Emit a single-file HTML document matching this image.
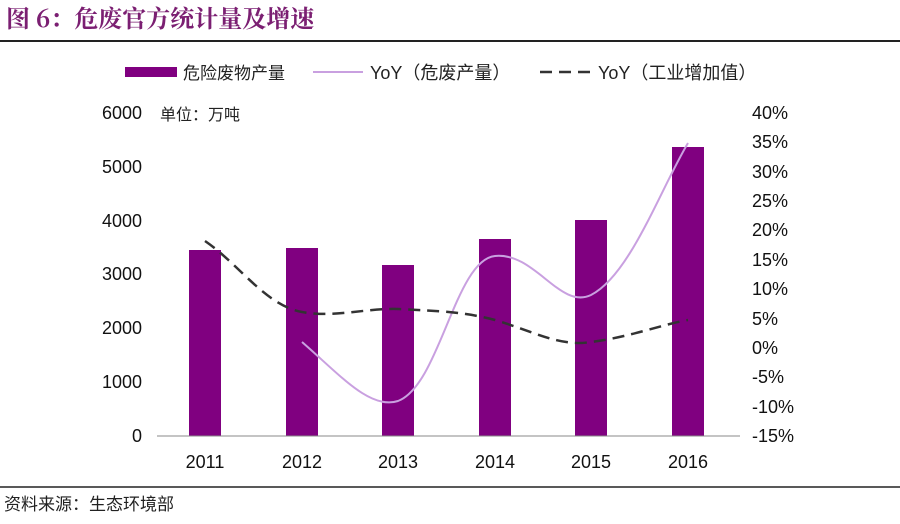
<!DOCTYPE html>
<html><head><meta charset="utf-8"><style>
body{margin:0;background:#fff;width:900px;height:519px;overflow:hidden;font-family:"Liberation Sans","Noto Sans CJK SC",sans-serif}
</style></head><body>
<svg width="900" height="519" xmlns="http://www.w3.org/2000/svg" font-family="Liberation Sans, Noto Sans CJK SC, sans-serif">
<text x="6" y="27" font-size="24" font-weight="bold" fill="#7b1f72" font-family="Noto Serif CJK SC, Noto Sans CJK SC, sans-serif">图 6：危废官方统计量及增速</text>
<line x1="0" y1="41" x2="900" y2="41" stroke="#222" stroke-width="2"/>
<rect x="125" y="67" width="52" height="10" fill="#800080"/>
<text x="183" y="79" font-size="17" fill="#222">危险废物产量</text>
<line x1="313" y1="72" x2="363" y2="72" stroke="#c9a0e0" stroke-width="2"/>
<text x="370" y="79" font-size="18" fill="#222">YoY（危废产量）</text>
<line x1="540" y1="72" x2="590" y2="72" stroke="#333" stroke-width="2.5" stroke-dasharray="12,7"/>
<text x="598" y="79" font-size="18" fill="#222">YoY（工业增加值）</text>
<g font-size="18" fill="#111" text-anchor="end">
<text x="142" y="119">6000</text><text x="142" y="173">5000</text><text x="142" y="227">4000</text><text x="142" y="280">3000</text><text x="142" y="334">2000</text><text x="142" y="388">1000</text><text x="142" y="442">0</text>
</g>
<text x="160" y="120" font-size="16" fill="#222">单位：万吨</text>
<g font-size="18" fill="#111">
<text x="752" y="119">40%</text><text x="752" y="148">35%</text><text x="752" y="178">30%</text><text x="752" y="207">25%</text><text x="752" y="236">20%</text><text x="752" y="266">15%</text><text x="752" y="295">10%</text><text x="752" y="325">5%</text><text x="752" y="354">0%</text><text x="752" y="383">-5%</text><text x="752" y="413">-10%</text><text x="752" y="442">-15%</text>
</g>
<g fill="#800080">
<rect x="189" y="250" width="32" height="186"/>
<rect x="286" y="248" width="32" height="188"/>
<rect x="382" y="265" width="32" height="171"/>
<rect x="479" y="239" width="32" height="197"/>
<rect x="575" y="220" width="32" height="216"/>
<rect x="672" y="147" width="32" height="289"/>
</g>
<line x1="157" y1="436" x2="740" y2="436" stroke="#888" stroke-width="1"/>
<path d="M302,342 C340,375 370,410 398,401 C440,385 455,260 495,256 C535,252 560,310 591,295 C630,275 660,190 688,143" fill="none" stroke="#c9a0e0" stroke-width="2"/>
<path d="M205,241 C240,265 265,305 302,312 C335,318 365,308 398,309 C440,311 465,312 495,320 C535,332 560,347 591,342 C630,337 660,325 688,320" fill="none" stroke="#333" stroke-width="2.5" stroke-dasharray="12,7"/>
<g font-size="18" fill="#111" text-anchor="middle">
<text x="205" y="468">2011</text><text x="302" y="468">2012</text><text x="398" y="468">2013</text><text x="495" y="468">2014</text><text x="591" y="468">2015</text><text x="688" y="468">2016</text>
</g>
<line x1="0" y1="487" x2="900" y2="487" stroke="#222" stroke-width="1.5"/>
<text x="4" y="510" font-size="17" fill="#222">资料来源：生态环境部</text>
</svg>
</body></html>
